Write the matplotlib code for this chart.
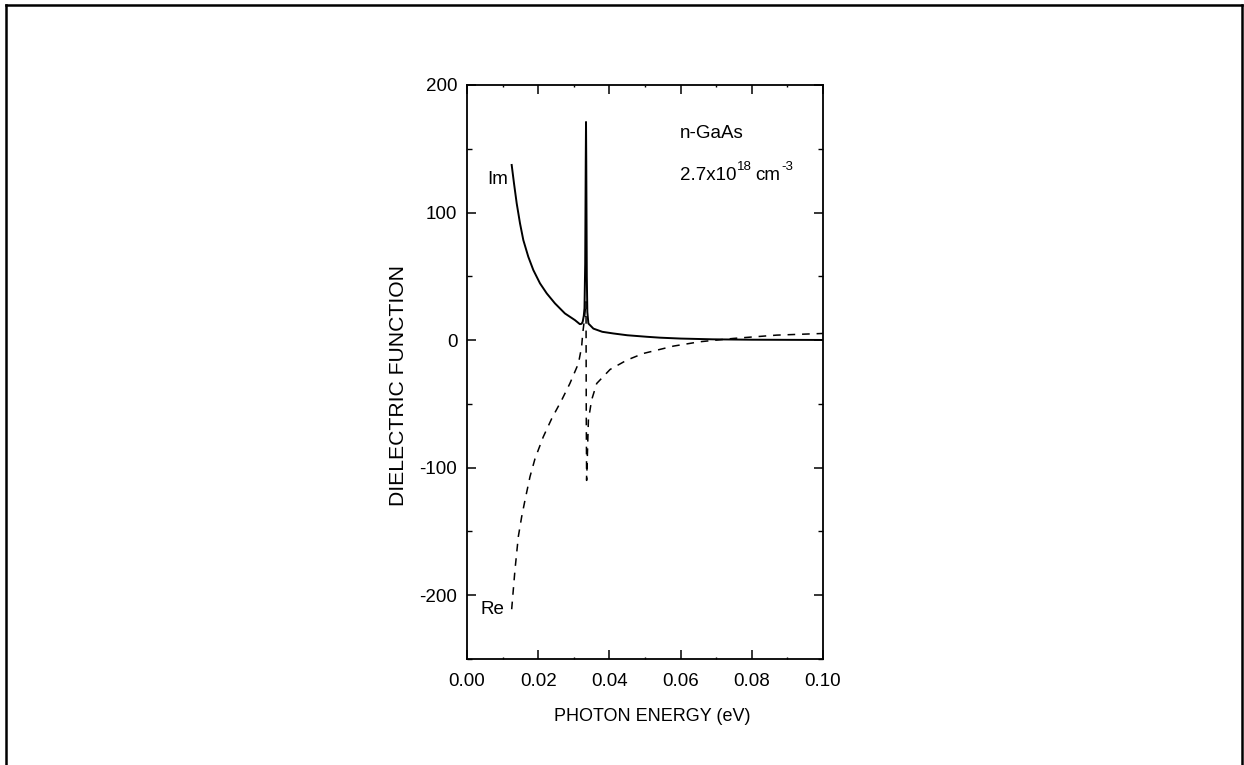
import matplotlib
matplotlib.use("Agg")
import matplotlib.pyplot as plt
from matplotlib.lines import Line2D
from matplotlib.ticker import MultipleLocator

plt.rcParams['font.family'] = ['Liberation Sans', 'DejaVu Sans']
plt.rcParams['axes.unicode_minus'] = False

# imaginary part (solid)
im_energy = [0.01255, 0.0132, 0.01396, 0.01489, 0.01582, 0.01722, 0.01863, 0.0205,
             0.0224, 0.0247, 0.0275, 0.0303, 0.0317, 0.0322, 0.0325, 0.0328,
             0.0330, 0.0332, 0.03335, 0.03343, 0.0335, 0.03365, 0.0338, 0.0341,
             0.0355, 0.0380, 0.0411, 0.0450, 0.0505, 0.0542, 0.0600, 0.0691,
             0.0800, 0.0900, 0.1000]
im_eps = [137.3, 122.9, 107.2, 91.5, 78.4, 65.3, 54.9, 44.5,
          36.6, 28.8, 20.9, 15.7, 12.5, 12.8, 14.4, 19.0,
          25.0, 60.0, 140.0, 171.0, 140.0, 50.0, 22.0, 13.0,
          9.0, 6.5, 5.2, 3.8, 2.6, 1.9, 1.2, 0.6,
          0.3, 0.2, 0.1]

# real part (dashed)
re_energy = [0.01255, 0.01348, 0.01442, 0.01535, 0.01629, 0.0177, 0.0191, 0.0214,
             0.0238, 0.0266, 0.0289, 0.0313, 0.0322, 0.0325, 0.0328, 0.0331,
             0.03335, 0.03343, 0.03350, 0.03360, 0.0338, 0.0341, 0.0350, 0.03643,
             0.0402, 0.0449, 0.0495, 0.0542, 0.0580, 0.0654, 0.0748, 0.0870,
             0.1000]
re_eps = [-211, -180, -154, -138.6, -125.5, -107, -93, -76,
          -61.5, -47, -34, -18.3, -5.2, 5.2, 12.0, 20.0,
          28.0, 30.0, -60.0, -110, -91.5, -62.7, -47, -34,
          -23, -15.7, -10.5, -7.3, -4.7, -1.3, 1.3, 3.9,
          5.2]

xticks = [0.00, 0.02, 0.04, 0.06, 0.08, 0.10]
yticks = [-200, -100, 0, 100, 200]

fig = plt.figure(figsize=(12.44, 7.65), dpi=100)
ax = fig.add_axes([0.3754, 0.1386, 0.2862, 0.7503])

ax.plot(im_energy, im_eps, color='black', lw=1.4)
ax.plot(re_energy, re_eps, color='black', lw=1.1, dashes=(5, 4.5))

ax.set_xlim(0, 0.10)
ax.set_ylim(-250, 200)
ax.set_xticks(xticks)
ax.set_xticklabels([f"{t:.2f}" for t in xticks])
ax.set_yticks(yticks)
ax.xaxis.set_minor_locator(MultipleLocator(0.01))
ax.yaxis.set_minor_locator(MultipleLocator(50))
ax.tick_params(which='both', direction='in', top=True, right=True, labelsize=13.5)
ax.tick_params(which='major', length=6.5, width=1.1)
ax.tick_params(axis='x', which='major', pad=10)
ax.tick_params(axis='y', which='major', pad=7)
ax.tick_params(axis='x', which='minor', length=1.2, width=1.0)
ax.tick_params(axis='y', which='minor', length=3.3, width=1.0)
for s in ax.spines.values():
    s.set_linewidth(1.3)

ax.set_xlabel('PHOTON ENERGY (eV)', fontsize=13)
ax.set_ylabel('DIELECTRIC FUNCTION', fontsize=15.2)
ax.xaxis.set_label_coords(0.52, -0.085)
ax.yaxis.set_label_coords(-0.166, 0.477)

ax.text(0.0598, 162, 'n-GaAs', fontsize=13.5, va='center')
ax.text(0.0056, 126, 'Im', fontsize=13.5, va='center')
ax.text(0.0039, -211, 'Re', fontsize=13.5, va='center')

# carrier density with small raised exponents
base = ax.text(0.0598, 125.5, '2.7x10', fontsize=13.5, va='baseline')
sup1 = ax.annotate('18', xy=(1, 0), xycoords=base, xytext=(0.5, 8),
                   textcoords='offset points', fontsize=9.5, va='bottom')
unit = ax.annotate('cm', xy=(1, 0), xycoords=sup1, xytext=(2, -8),
                   textcoords='offset points', fontsize=13.5, va='bottom')
ax.annotate('-3', xy=(1, 0), xycoords=unit, xytext=(1.5, 8),
            textcoords='offset points', fontsize=9.5, va='bottom')

# outer frame
W, H = 1244, 765
frame = dict(color='black', lw=1.8)
fig.add_artist(Line2D([6 / W, 6 / W], [0, 1 - 5 / H], **frame))
fig.add_artist(Line2D([6 / W, 1242 / W], [1 - 5 / H, 1 - 5 / H], **frame))
fig.add_artist(Line2D([1242 / W, 1242 / W], [0, 1 - 5 / H], **frame))

fig.savefig('out.png', dpi=100)
